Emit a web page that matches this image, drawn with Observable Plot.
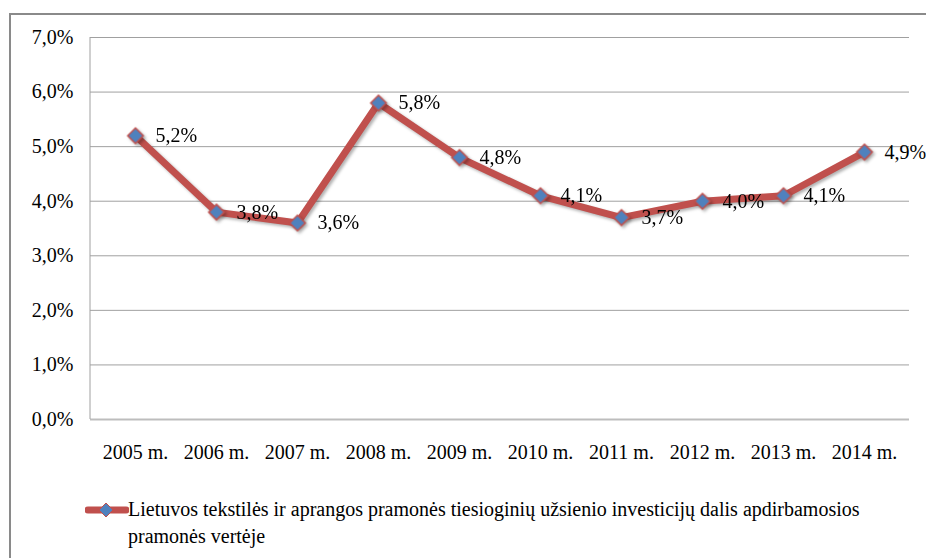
<!DOCTYPE html>
<html>
<head>
<meta charset="utf-8">
<script src="https://cdn.jsdelivr.net/npm/d3@7"></script>
<script src="https://cdn.jsdelivr.net/npm/@observablehq/plot@0.6"></script>
</head>
<body style="margin:0;padding:0;background:#fff;width:926px;height:558px;position:relative;overflow:hidden;">
<div style="position:absolute;left:9px;top:13px;width:930px;height:560px;border-left:2px solid #8a8a8a;border-top:2px solid #8a8a8a;"></div>
<div id="chart" style="position:absolute;left:0;top:0;"></div>
<div style="position:absolute;left:85px;top:496px;">
  <svg width="44" height="20" style="position:absolute;left:0;top:6px;"><line x1="3" y1="8" x2="41" y2="8" stroke="#C0504D" stroke-width="7" stroke-linecap="round"/><path d="M21,1 L28,8 L21,15 L14,8 Z" fill="#4F81BD" stroke="#C0504D" stroke-width="1"/></svg>
  <div id="legendText" style="position:absolute;left:43px;top:0;white-space:nowrap;font-family:'Liberation Serif';font-size:20px;line-height:27px;color:#000;"></div>
</div>
<script>
const years = ["2005 m.", "2006 m.", "2007 m.", "2008 m.", "2009 m.", "2010 m.", "2011 m.", "2012 m.", "2013 m.", "2014 m."];
const values = [5.2, 3.8, 3.6, 5.8, 4.8, 4.1, 3.7, 4.0, 4.1, 4.9];
const yTicks = [0, 1, 2, 3, 4, 5, 6, 7];
const seriesName = "Lietuvos tekstilės ir aprangos pramonės tiesioginių užsienio investicijų dalis apdirbamosios";
const seriesName2 = "pramonės vertėje";

const FONT = "Liberation Serif";
const fmt = v => v.toFixed(1).replace(".", ",") + "%";
const data = years.map((y, i) => ({year: y, value: values[i]}));

const chart = Plot.plot({
  width: 926,
  height: 475,
  marginLeft: 90,
  marginRight: 17,
  marginTop: 37,
  marginBottom: 56,
  style: {fontSize: "20px", color: "#000", background: "transparent", overflow: "visible"},
  x: {type: "point", domain: years, padding: 0.5, label: null},
  y: {domain: [0, 7], label: null},
  marks: [
    Plot.ruleY(yTicks.filter(d => d > 0), {stroke: "#a0a0a0", strokeOpacity: 1, strokeWidth: 1}),
    Plot.ruleY([0], {stroke: "#bdbdbd", strokeWidth: 2}),
    Plot.axisY({ticks: yTicks, tickFormat: fmt, tickSize: 0, tickPadding: 17, fontSize: 20, label: null}),
    Plot.axisX({tickSize: 0, tickPadding: 25, fontSize: 20, label: null}),
    Plot.line(data, {x: "year", y: "value", stroke: "#C0504D", strokeWidth: 7, strokeLinejoin: "round"}),
    Plot.dot(data, {x: "year", y: "value", symbol: "diamond2", r: 7, fill: "#4F81BD", stroke: "#C0504D", strokeWidth: 1.5}),
    Plot.text(data, {x: "year", y: "value", text: d => fmt(d.value), dx: 20, textAnchor: "start", fontSize: 20, fill: "#000"})
  ]
});
document.getElementById("chart").appendChild(chart);

const svg = d3.select(chart);
svg.attr("font-family", FONT).style("font-family", FONT);
svg.selectAll("g").attr("font-family", null);
svg.selectAll("text").attr("font-family", FONT).each(function() { this.style.setProperty("font-family", FONT, "important"); });
svg.append("line").attr("x1", 90).attr("x2", 90).attr("y1", 37).attr("y2", 419).attr("stroke", "#a0a0a0").attr("stroke-width", 1);
svg.selectAll('g[aria-label="line"], g[aria-label="dot"]').style("filter", "drop-shadow(2px 2px 1.5px rgba(0,0,0,0.3))");

document.getElementById("legendText").innerHTML = seriesName + "<br>" + seriesName2;
</script>
</body>
</html>
